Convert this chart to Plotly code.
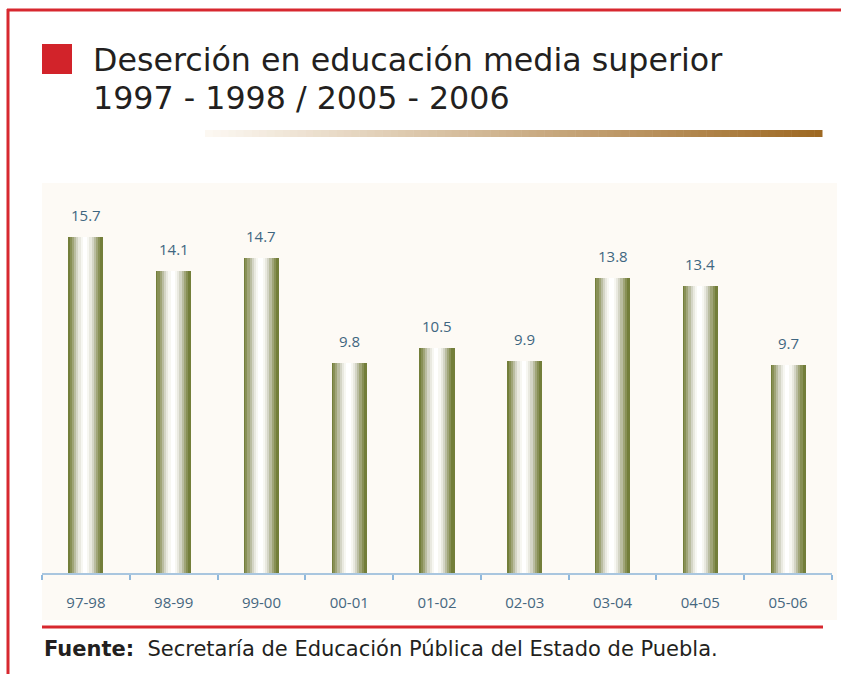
import plotly.graph_objects as go

# ---- data ----
periods = ["97-98", "98-99", "99-00", "00-01", "01-02", "02-03", "03-04", "04-05", "05-06"]
desercion = [15.7, 14.1, 14.7, 9.8, 10.5, 9.9, 13.8, 13.4, 9.7]
title_line1 = "Deserción en educación media superior"
title_line2 = "1997 - 1998 / 2005 - 2006"
source_text = "<b>Fuente:</b>  Secretaría de Educación Pública del Estado de Puebla."

W, H = 841, 674
L, R, T, B = 42, 832, 190, 573  # plot area in pixels


def px(x):
    return (x - L) / (R - L)


def py(y):
    return (B - y) / (B - T)


fig = go.Figure()

# cylinder-like bars: layered overlays from dark olive edge to white core
layers = [
    (0.40, "#737e3a"),
    (0.35, "#889056"),
    (0.30, "#a0a578"),
    (0.25, "#babda1"),
    (0.20, "#d4d5c6"),
    (0.15, "#e9e9e0"),
    (0.10, "#f7f7f2"),
    (0.05, "#ffffff"),
]
for i, (w, c) in enumerate(layers):
    fig.add_trace(go.Bar(
        x=periods, y=desercion, width=w,
        marker=dict(color=c, line=dict(width=0)),
        showlegend=False, hoverinfo="skip" if i else "x+y",
        offset=-w / 2 - 0.01 * (i > 0),
    ))

for p, v in zip(periods, desercion):
    fig.add_annotation(x=p, y=v, text=f"{v:.1f}", showarrow=False,
                       yanchor="bottom", yshift=10,
                       font=dict(family="Open Sans", size=15, color="#3f6680"))

shapes = []
# chart background
shapes.append(dict(type="rect", xref="paper", yref="paper", layer="below",
                   x0=px(42), x1=px(837), y0=py(620), y1=py(183),
                   fillcolor="#fdfaf5", line=dict(width=0)))
# red frame lines
shapes.append(dict(type="line", xref="paper", yref="paper",
                   x0=px(7), x1=px(841), y0=py(10), y1=py(10),
                   line=dict(color="#d7282f", width=3)))
shapes.append(dict(type="line", xref="paper", yref="paper",
                   x0=px(8), x1=px(8), y0=py(9), y1=py(674),
                   line=dict(color="#d7282f", width=3)))
shapes.append(dict(type="line", xref="paper", yref="paper",
                   x0=px(42), x1=px(823), y0=py(627), y1=py(627),
                   line=dict(color="#d7282f", width=3)))
# red square
shapes.append(dict(type="rect", xref="paper", yref="paper",
                   x0=px(42), x1=px(72), y0=py(74), y1=py(44),
                   fillcolor="#d2232a", line=dict(width=0)))
# gradient rule under title
n = 80
x_start, x_end = 205, 822
c0 = (252, 248, 242)
c1 = (158, 105, 35)
for k in range(n):
    t = k / (n - 1)
    col = tuple(int(round(c0[j] + (c1[j] - c0[j]) * t)) for j in range(3))
    xa = x_start + (x_end - x_start) * k / n
    xb = x_start + (x_end - x_start) * (k + 1) / n + 0.5
    shapes.append(dict(type="rect", xref="paper", yref="paper",
                       x0=px(xa), x1=px(xb), y0=py(137), y1=py(130),
                       fillcolor="rgb(%d,%d,%d)" % col, line=dict(width=0)))

annotations_extra = [
    dict(text=title_line1, x=px(91), y=py(60), xanchor="left", yanchor="middle"),
    dict(text=title_line2, x=px(91), y=py(98), xanchor="left", yanchor="middle"),
]
for a in annotations_extra:
    fig.add_annotation(xref="paper", yref="paper", showarrow=False,
                       font=dict(family="DejaVu Sans", size=31.7, color="#231f20"), **a)
fig.add_annotation(xref="paper", yref="paper", showarrow=False,
                   x=px(42), y=py(649), xanchor="left", yanchor="middle",
                   text=source_text,
                   font=dict(family="DejaVu Sans", size=21, color="#231f20"))

fig.update_layout(
    width=W, height=H,
    margin=dict(l=L, r=W - R, t=T, b=H - B),
    paper_bgcolor="white", plot_bgcolor="rgba(0,0,0,0)",
    barmode="overlay", bargap=0,
    shapes=shapes,
    xaxis=dict(type="category", range=[-0.5, 8.5], showgrid=False,
               showline=True, linecolor="#a9c6df", linewidth=2,
               ticks="outside", tickson="boundaries", ticklen=5, tickcolor="#8fb8dc",
               tickwidth=2, ticklabelstandoff=15,
               tickfont=dict(family="Open Sans", size=15, color="#46677f")),
    yaxis=dict(range=[0, (B - T) / 21.4], visible=False, showgrid=False),
)

fig.write_html("out.html", config={"displayModeBar": False},
               post_script="document.body.style.margin='0';")
